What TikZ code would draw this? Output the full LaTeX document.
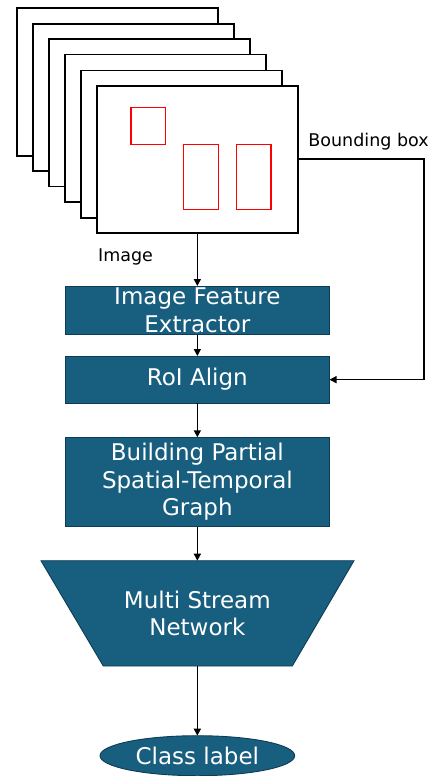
\documentclass[tikz,border=0pt]{standalone}
\usepackage{fontspec}
\setmainfont{DejaVu Sans}
\usetikzlibrary{arrows.meta,shapes.geometric}
\definecolor{boxblue}{RGB}{24,94,126}
\definecolor{boxedge}{RGB}{14,60,84}
\definecolor{bbred}{RGB}{255,0,0}
\tikzset{
  frame/.style={draw=black,fill=white,line width=1.6pt},
  bbox/.style={draw=bbred,line width=1.5pt},
  bluebox/.style={draw=boxedge,fill=boxblue,line width=0.9pt,text=white,align=center,
    inner sep=0pt,outer sep=0pt,font=\fontsize{23}{27.5}\selectfont},
  arr/.style={draw=black,line width=1.5pt,-{Triangle[length=7pt,width=7pt]}},
  lbl/.style={font=\fontsize{17.5}{20}\selectfont,inner sep=0pt},
}
\begin{document}
\begin{tikzpicture}[x=1pt,y=-1pt]
\useasboundingbox (0,0) rectangle (433,776);
% stacked frames
\draw[frame] (16.7,8.3) rectangle (217.7,155.7);
\draw[frame] (32.7,24) rectangle (233.7,171);
\draw[frame] (48.7,39.3) rectangle (249.7,186.3);
\draw[frame] (64.7,54.7) rectangle (265.7,201.7);
\draw[frame] (80.7,70.7) rectangle (281.7,217.7);
\node[frame,inner sep=0pt,outer sep=0pt,minimum width=200.7pt,minimum height=147pt] (img) at (197.35,159.2) {};
% red bounding boxes
\draw[bbox] (131,107.3) rectangle (165.7,144.7);
\draw[bbox] (183.7,144.7) rectangle (218.7,209.3);
\draw[bbox] (236.3,144.7) rectangle (271,209.3);
% labels
\node[lbl] (bblabel) at (368.5,141.7) {Bounding box};
\node[lbl] (imglabel) at (125.5,257) {Image};
% blue boxes
\node[bluebox,minimum width=264.3pt,minimum height=48.7pt] (ife) at (197.35,310.35) {Image Feature\\Extractor};
\node[bluebox,minimum width=264.3pt,minimum height=47.3pt] (roi) at (197.35,379.65) {RoI Align};
\node[bluebox,minimum width=264.3pt,minimum height=89.4pt] (bpg) at (197.35,482) {Building Partial\\Spatial-Temporal\\Graph};
% trapezoid
\fill[boxblue,draw=boxedge,line width=0.9pt] (41,560.7) -- (354,560.7) -- (292.3,666) -- (103.3,666) -- cycle;
\node[text=white,align=center,inner sep=0pt,outer sep=0pt,minimum height=105.3pt,font=\fontsize{23}{27.5}\selectfont] (msn) at (197.35,613.35) {Multi Stream\\Network};
% ellipse
\node[ellipse,draw=boxedge,fill=boxblue,line width=0.9pt,text=white,inner sep=0pt,outer sep=0pt,minimum width=194.7pt,minimum height=40pt,font=\fontsize{23}{27.5}\selectfont] (cls) at (197.35,755.7) {Class label};
% connectors
\draw[arr] (img.south) -- (ife.north);
\draw[arr] (ife.south) -- (roi.north);
\draw[arr] (roi.south) -- (bpg.north);
\draw[arr] (bpg.south) -- (msn.north);
\draw[arr] (msn.south) -- (cls.north);
\draw[arr] (img.east) -- ++(126.2,0) |- (roi.east);
\end{tikzpicture}
\end{document}
